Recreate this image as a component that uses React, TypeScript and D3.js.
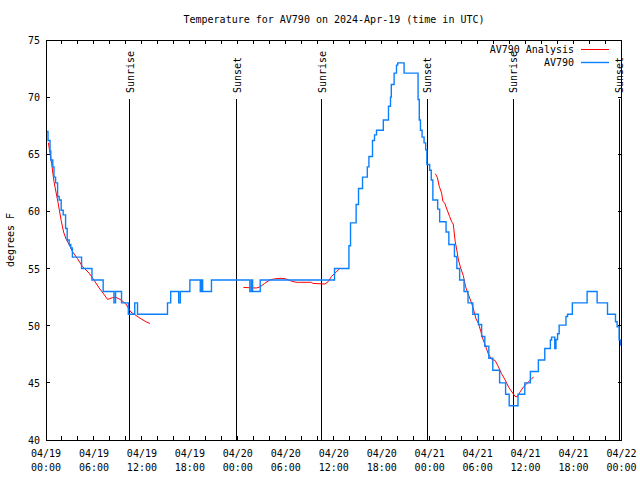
import { line, curveStepAfter, scaleLinear, range } from "d3";

// hours since 2024-04-19 00:00 UTC
const obsHours = [
  0, 0.25, 0.5, 0.6, 0.85, 1.0, 1.2, 1.45, 1.65, 1.9, 2.15, 2.45, 2.65, 2.9, 3.1, 3.3,
  4.45, 5.75, 7.15, 8.5, 8.7, 9.45, 10.3, 11.1, 11.45, 15.2, 15.6, 16.6, 16.8, 18.0,
  19.3, 19.45, 19.6, 20.7, 25.5, 25.7, 25.85, 26.8, 36.1, 37.9, 38.1, 38.8, 39.1, 39.6,
  40.2, 40.4, 40.85, 41.1, 41.35, 42.2, 42.85, 43.1, 43.2, 43.55, 43.85, 44.0, 44.8,
  46.55, 46.7, 46.85, 47.05, 47.3, 47.5, 47.65, 48.0, 48.2, 48.4, 49.0, 49.25, 50.05,
  50.4, 51.1, 51.4, 51.75, 52.3, 52.8, 53.4, 54.1, 54.5, 54.9, 55.4, 55.9, 56.75, 57.5,
  57.95, 59.05, 59.9, 60.6, 61.6, 62.4, 63.1, 63.25, 63.65, 63.8, 64.0, 64.2, 65.05,
  65.25, 65.85, 67.7, 68.95, 70.25, 71.25, 71.45, 71.7, 71.9, 72
];
const obsTemps = [
  67.0, 66.2, 65.3, 64.5, 63.9, 63.0, 62.5, 61.3, 61.0, 60.1, 59.7, 58.5, 57.5, 57.1, 56.8, 56.0,
  55.0, 54.0, 53.0, 52.0, 53.0, 52.0, 51.0, 52.0, 51.0, 52.0, 53.0, 52.0, 53.0, 54.0,
  53.0, 54.0, 53.0, 54.0, 53.0, 54.0, 53.0, 54.0, 55.0, 57.0, 59.0, 60.6, 62.0, 63.0,
  63.9, 64.8, 66.2, 66.7, 67.1, 68.0, 69.2, 70.0, 71.1, 72.1, 72.8, 73.0, 72.1,
  69.8, 68.0, 67.1, 66.5, 66.0, 65.4, 64.1, 63.6, 62.75, 61.0, 60.2, 59.1, 58.2,
  57.1, 56.05, 55.0, 54.0, 53.0, 52.0, 51.0, 50.1, 49.05, 48.2, 47.15, 46.1, 45.0, 44.0,
  43.0, 44.0, 45.0, 46.0, 47.0, 48.0, 48.75, 49.0, 48.0, 48.8, 49.3, 50.05, 50.8,
  51.0, 52.0, 53.0, 52.0, 51.0, 50.35, 49.9, 48.75, 48.3, 48.3
];

// analysis runs, null breaks the line
const anaHours = [
  0.3, 0.7, 1.0, 1.5, 1.9, 2.2, 2.5, 2.9, 3.3, 3.9, 4.55, 5.4, 6.0, 6.65, 7.3, 7.7, 8.3,
  8.7, 9.4, 10.0, 10.6, 11.25, 11.9, 12.5, 13.0, 13.01,
  24.7, 26.3, 26.8, 27.35, 28.0, 28.6, 29.4, 30.0, 30.7, 31.3, 33.2, 33.4, 34.9, 35.3,
  35.7, 36.3, 36.75, 36.76,
  48.7, 48.95, 49.2, 49.5, 49.65, 49.9, 50.1, 50.5, 50.75, 50.95, 51.2, 51.4, 51.6, 51.9,
  52.2, 52.5, 52.8, 53.1, 53.4, 53.8, 54.1, 54.4, 54.7, 55.0, 55.3, 55.7, 56.2, 56.6,
  57.0, 57.45, 57.9, 58.3, 58.7, 59.0, 59.3, 59.8, 60.4, 60.8, 61.0
];
const anaTemps = [
  66.0, 64.2, 62.6, 60.8, 59.2, 58.2, 57.6, 57.1, 56.5, 55.9, 55.2, 54.6, 54.0, 53.3, 52.7, 52.3, 52.45,
  52.5, 52.25, 51.9, 51.2, 50.9, 50.6, 50.35, 50.2, null,
  53.35, 53.3, 53.4, 53.7, 54.0, 54.1, 54.15, 54.1, 53.9, 53.8, 53.8, 53.7, 53.65, 53.85,
  54.3, 54.7, 55.0, null,
  63.3, 63.0, 62.2, 61.6, 60.9, 60.7, 60.3, 59.55, 59.1, 58.9, 57.35, 56.6, 55.75, 55.0,
  54.4, 53.4, 52.8, 52.25, 51.65, 50.6, 50.2, 49.5, 48.75, 48.2, 47.6, 47.1, 46.95, 46.4,
  45.8, 45.25, 44.6, 44.2, 43.8, 43.8, 44.2, 44.7, 45.1, 45.4, 45.5
];

const sunHours = [10.5, 23.85, 34.47, 47.7, 58.45, 71.7];
const sunLabels = ["Sunrise", "Sunset", "Sunrise", "Sunset", "Sunrise", "Sunset"];

const yTicks = [40, 45, 50, 55, 60, 65, 70, 75];
const xLabelHours = range(0, 73, 6);
const xLabelDates = ["04/19", "04/19", "04/19", "04/19", "04/20", "04/20", "04/20", "04/20", "04/21", "04/21", "04/21", "04/21", "04/22"];
const xLabelTimes = ["00:00", "06:00", "12:00", "18:00", "00:00", "06:00", "12:00", "18:00", "00:00", "06:00", "12:00", "18:00", "00:00"];

const font = "'DejaVu Sans Mono', monospace";

export default function App() {
  const width = 640;
  const height = 480;
  const left = 46;
  const right = 621.5;
  const top = 40;
  const bottom = 440;

  const x = scaleLinear().domain([0, 72]).range([left, right]);
  const y = scaleLinear().domain([40, 75]).range([bottom, top]);

  const obs = obsHours.map((h, i) => [h, obsTemps[i]] as [number, number]);
  const ana = anaHours.map((h, i) => [h, anaTemps[i]] as [number, number | null]);

  const obsPath = line<[number, number]>()
    .x((d) => x(d[0]))
    .y((d) => y(d[1]))
    .curve(curveStepAfter)(obs) ?? "";
  const anaPath = line<[number, number | null]>()
    .defined((d) => d[1] != null)
    .x((d) => x(d[0]))
    .y((d) => y(d[1] as number))(ana) ?? "";

  const minorHours = range(0, 73, 2);
  const red = "#ff0000";
  const blue = "#0a80ff";

  return (
    <svg
      width={width}
      height={height}
      style={{ position: "fixed", left: 0, top: 0, background: "#fff" }}
      fontFamily={font}
      fontSize={10}
    >
      <rect width={width} height={height} fill="#fff" />
      <text x={334} y={23} textAnchor="middle" fill="#000">
        Temperature for AV790 on 2024-Apr-19 (time in UTC)
      </text>

      {/* y ticks */}
      {yTicks.map((t) => (
        <g key={t}>
          <line x1={left} x2={left + 4} y1={y(t)} y2={y(t)} stroke="#000" shapeRendering="crispEdges" />
          <line x1={right - 4} x2={right} y1={y(t)} y2={y(t)} stroke="#000" shapeRendering="crispEdges" />
          <text x={40} y={y(t) + 4} textAnchor="end" fill="#000">{t}</text>
        </g>
      ))}

      {/* x ticks */}
      {minorHours.map((h) => (
        <g key={h}>
          <line x1={x(h)} x2={x(h)} y1={bottom} y2={bottom - 4} stroke="#000" shapeRendering="crispEdges" />
          <line x1={x(h)} x2={x(h)} y1={top} y2={top + 4} stroke="#000" shapeRendering="crispEdges" />
        </g>
      ))}
      {xLabelHours.map((h, i) => (
        <g key={h}>
          <text x={x(h)} y={457} textAnchor="middle" fill="#000">{xLabelDates[i]}</text>
          <text x={x(h)} y={471} textAnchor="middle" fill="#000">{xLabelTimes[i]}</text>
        </g>
      ))}

      <text transform="translate(14,240) rotate(-90)" textAnchor="middle" fill="#000">
        degrees F
      </text>

      {/* sunrise / sunset */}
      {sunHours.map((h, i) => (
        <g key={h}>
          <line x1={x(h)} x2={x(h)} y1={99} y2={bottom} stroke="#000" shapeRendering="crispEdges" />
          <text transform={`translate(${x(h) + 4},93) rotate(-90)`} textAnchor="start" fill="#000">
            {sunLabels[i]}
          </text>
        </g>
      ))}

      <path d={anaPath} fill="none" stroke={red} strokeWidth={1} />
      <path d={obsPath} fill="none" stroke={blue} strokeWidth={1.4} />

      {/* legend */}
      <text x={574} y={53} textAnchor="end" fill="#000">AV790 Analysis</text>
      <line x1={581} x2={609} y1={49.5} y2={49.5} stroke={red} strokeWidth={1} />
      <text x={574} y={66} textAnchor="end" fill="#000">AV790</text>
      <line x1={581} x2={609} y1={62.5} y2={62.5} stroke={blue} strokeWidth={1.4} />

      <rect
        x={left}
        y={top}
        width={right - left}
        height={bottom - top}
        fill="none"
        stroke="#000"
        shapeRendering="crispEdges"
      />
    </svg>
  );
}
